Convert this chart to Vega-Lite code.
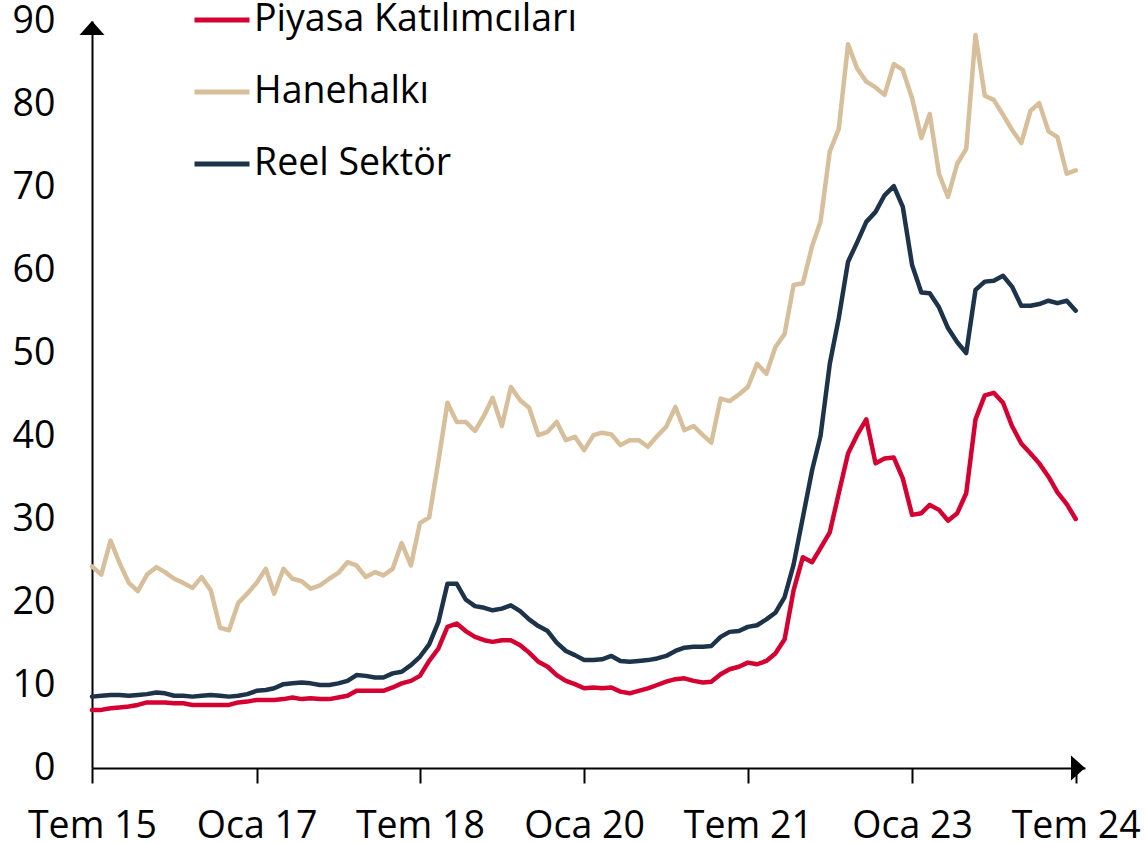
{
  "$schema": "https://vega.github.io/schema/vega-lite/v6.json",
  "width": 993,
  "height": 747,
  "autosize": {"type": "none"},
  "padding": {"left": 92, "top": 21, "right": 62, "bottom": 75},
  "background": "white",
  "config": {
    "view": {"stroke": null},
    "font": "Open Sans",
    "axis": {"grid": false, "domainColor": "#000", "domainWidth": 2, "tickColor": "#000", "tickWidth": 2, "labelFont": "Open Sans", "labelFontSize": 37.5, "labelColor": "#000", "title": null}
  },
  "datasets": {
    "main": [
      {"t":"2015-07-01","p":7.0,"h":24.3,"r":8.6},
      {"t":"2015-08-01","p":7.0,"h":23.3,"r":8.7},
      {"t":"2015-09-01","p":7.2,"h":27.4,"r":8.8},
      {"t":"2015-10-01","p":7.3,"h":24.7,"r":8.8},
      {"t":"2015-11-01","p":7.4,"h":22.3,"r":8.7},
      {"t":"2015-12-01","p":7.6,"h":21.3,"r":8.8},
      {"t":"2016-01-01","p":7.9,"h":23.3,"r":8.9},
      {"t":"2016-02-01","p":7.9,"h":24.2,"r":9.1},
      {"t":"2016-03-01","p":7.9,"h":23.6,"r":9.0},
      {"t":"2016-04-01","p":7.8,"h":22.8,"r":8.7},
      {"t":"2016-05-01","p":7.8,"h":22.3,"r":8.7},
      {"t":"2016-06-01","p":7.6,"h":21.7,"r":8.6},
      {"t":"2016-07-01","p":7.6,"h":23.0,"r":8.7},
      {"t":"2016-08-01","p":7.6,"h":21.4,"r":8.8},
      {"t":"2016-09-01","p":7.6,"h":16.9,"r":8.7},
      {"t":"2016-10-01","p":7.6,"h":16.6,"r":8.6},
      {"t":"2016-11-01","p":7.9,"h":19.9,"r":8.7},
      {"t":"2016-12-01","p":8.0,"h":21.0,"r":8.9},
      {"t":"2017-01-01","p":8.2,"h":22.3,"r":9.3},
      {"t":"2017-02-01","p":8.2,"h":24.0,"r":9.4},
      {"t":"2017-03-01","p":8.2,"h":21.0,"r":9.6},
      {"t":"2017-04-01","p":8.3,"h":24.0,"r":10.1},
      {"t":"2017-05-01","p":8.5,"h":22.8,"r":10.2},
      {"t":"2017-06-01","p":8.3,"h":22.5,"r":10.3},
      {"t":"2017-07-01","p":8.4,"h":21.6,"r":10.2},
      {"t":"2017-08-01","p":8.3,"h":22.0,"r":10.0},
      {"t":"2017-09-01","p":8.3,"h":22.8,"r":10.0},
      {"t":"2017-10-01","p":8.5,"h":23.5,"r":10.2},
      {"t":"2017-11-01","p":8.7,"h":24.8,"r":10.5},
      {"t":"2017-12-01","p":9.3,"h":24.4,"r":11.2},
      {"t":"2018-01-01","p":9.3,"h":23.0,"r":11.1},
      {"t":"2018-02-01","p":9.3,"h":23.6,"r":10.9},
      {"t":"2018-03-01","p":9.3,"h":23.2,"r":10.9},
      {"t":"2018-04-01","p":9.7,"h":24.0,"r":11.4},
      {"t":"2018-05-01","p":10.2,"h":27.1,"r":11.6},
      {"t":"2018-06-01","p":10.5,"h":24.4,"r":12.4},
      {"t":"2018-07-01","p":11.1,"h":29.5,"r":13.4},
      {"t":"2018-08-01","p":12.9,"h":30.2,"r":14.9},
      {"t":"2018-09-01","p":14.4,"h":37.0,"r":17.6},
      {"t":"2018-10-01","p":17.0,"h":44.0,"r":22.2},
      {"t":"2018-11-01","p":17.4,"h":41.7,"r":22.2},
      {"t":"2018-12-01","p":16.5,"h":41.7,"r":20.3},
      {"t":"2019-01-01","p":15.8,"h":40.6,"r":19.5},
      {"t":"2019-02-01","p":15.4,"h":42.5,"r":19.3},
      {"t":"2019-03-01","p":15.2,"h":44.6,"r":19.0},
      {"t":"2019-04-01","p":15.4,"h":41.2,"r":19.2},
      {"t":"2019-05-01","p":15.4,"h":45.9,"r":19.6},
      {"t":"2019-06-01","p":14.8,"h":44.3,"r":18.9},
      {"t":"2019-07-01","p":13.9,"h":43.4,"r":17.9},
      {"t":"2019-08-01","p":12.8,"h":40.1,"r":17.1},
      {"t":"2019-09-01","p":12.2,"h":40.5,"r":16.5},
      {"t":"2019-10-01","p":11.2,"h":41.7,"r":15.1},
      {"t":"2019-11-01","p":10.5,"h":39.5,"r":14.1},
      {"t":"2019-12-01","p":10.1,"h":39.9,"r":13.6},
      {"t":"2020-01-01","p":9.6,"h":38.3,"r":13.0},
      {"t":"2020-02-01","p":9.7,"h":40.1,"r":13.0},
      {"t":"2020-03-01","p":9.6,"h":40.4,"r":13.1},
      {"t":"2020-04-01","p":9.7,"h":40.2,"r":13.5},
      {"t":"2020-05-01","p":9.2,"h":38.9,"r":12.9},
      {"t":"2020-06-01","p":9.0,"h":39.5,"r":12.8},
      {"t":"2020-07-01","p":9.3,"h":39.5,"r":12.9},
      {"t":"2020-08-01","p":9.6,"h":38.7,"r":13.0},
      {"t":"2020-09-01","p":10.0,"h":40.0,"r":13.2},
      {"t":"2020-10-01","p":10.4,"h":41.1,"r":13.5},
      {"t":"2020-11-01","p":10.7,"h":43.5,"r":14.1},
      {"t":"2020-12-01","p":10.8,"h":40.7,"r":14.5},
      {"t":"2021-01-01","p":10.5,"h":41.2,"r":14.6},
      {"t":"2021-02-01","p":10.3,"h":40.1,"r":14.6},
      {"t":"2021-03-01","p":10.4,"h":39.2,"r":14.7},
      {"t":"2021-04-01","p":11.3,"h":44.5,"r":15.8},
      {"t":"2021-05-01","p":11.9,"h":44.2,"r":16.4},
      {"t":"2021-06-01","p":12.2,"h":45.0,"r":16.5},
      {"t":"2021-07-01","p":12.7,"h":45.9,"r":17.0},
      {"t":"2021-08-01","p":12.5,"h":48.7,"r":17.2},
      {"t":"2021-09-01","p":12.9,"h":47.5,"r":17.9},
      {"t":"2021-10-01","p":13.8,"h":50.7,"r":18.7},
      {"t":"2021-11-01","p":15.5,"h":52.3,"r":20.6},
      {"t":"2021-12-01","p":21.4,"h":58.2,"r":24.5},
      {"t":"2022-01-01","p":25.4,"h":58.4,"r":30.2},
      {"t":"2022-02-01","p":24.8,"h":62.9,"r":35.9},
      {"t":"2022-03-01","p":26.5,"h":65.8,"r":40.0},
      {"t":"2022-04-01","p":28.4,"h":74.3,"r":48.7},
      {"t":"2022-05-01","p":33.1,"h":77.0,"r":54.2},
      {"t":"2022-06-01","p":37.9,"h":87.2,"r":61.0},
      {"t":"2022-07-01","p":40.1,"h":84.3,"r":63.3},
      {"t":"2022-08-01","p":42.0,"h":82.7,"r":65.8},
      {"t":"2022-09-01","p":36.7,"h":82.0,"r":67.0},
      {"t":"2022-10-01","p":37.3,"h":81.1,"r":69.0},
      {"t":"2022-11-01","p":37.4,"h":84.8,"r":70.1},
      {"t":"2022-12-01","p":34.9,"h":84.1,"r":67.6},
      {"t":"2023-01-01","p":30.5,"h":80.7,"r":60.6},
      {"t":"2023-02-01","p":30.7,"h":75.9,"r":57.3},
      {"t":"2023-03-01","p":31.7,"h":78.8,"r":57.2},
      {"t":"2023-04-01","p":31.1,"h":71.6,"r":55.5},
      {"t":"2023-05-01","p":29.8,"h":68.8,"r":53.0},
      {"t":"2023-06-01","p":30.7,"h":72.8,"r":51.3},
      {"t":"2023-07-01","p":33.1,"h":74.6,"r":50.0},
      {"t":"2023-08-01","p":42.0,"h":88.3,"r":57.6},
      {"t":"2023-09-01","p":44.9,"h":81.0,"r":58.6},
      {"t":"2023-10-01","p":45.2,"h":80.5,"r":58.7},
      {"t":"2023-11-01","p":44.0,"h":78.7,"r":59.3},
      {"t":"2023-12-01","p":41.2,"h":76.9,"r":58.0},
      {"t":"2024-01-01","p":39.1,"h":75.3,"r":55.7},
      {"t":"2024-02-01","p":37.9,"h":79.2,"r":55.7},
      {"t":"2024-03-01","p":36.7,"h":80.1,"r":55.9},
      {"t":"2024-04-01","p":35.1,"h":76.7,"r":56.3},
      {"t":"2024-05-01","p":33.2,"h":76.0,"r":56.0},
      {"t":"2024-06-01","p":31.8,"h":71.6,"r":56.3},
      {"t":"2024-07-01","p":30.0,"h":72.0,"r":55.1}
    ]
  },
  "layer": [
    {
      "data": {"name": "main"},
      "transform": [{"fold": ["p", "h", "r"], "as": ["k", "v"]}],
      "mark": {"type": "line", "strokeWidth": 4.5, "strokeJoin": "round", "strokeCap": "round"},
      "encoding": {
        "x": {
          "field": "t", "type": "temporal",
          "scale": {"type": "utc", "domain": [{"year": 2015, "month": 7, "date": 1, "utc": true}, {"year": 2024, "month": 8, "date": 1, "utc": true}]},
          "axis": {
            "values": [
              {"year": 2015, "month": 7, "date": 1, "utc": true},
              {"year": 2017, "month": 1, "date": 1, "utc": true},
              {"year": 2018, "month": 7, "date": 1, "utc": true},
              {"year": 2020, "month": 1, "date": 1, "utc": true},
              {"year": 2021, "month": 7, "date": 1, "utc": true},
              {"year": 2023, "month": 1, "date": 1, "utc": true},
              {"year": 2024, "month": 7, "date": 1, "utc": true}
            ],
            "labelExpr": "(utcmonth(datum.value) == 0 ? 'Oca ' : 'Tem ') + utcFormat(datum.value, '%y')",
            "tickSize": 15, "labelPadding": 24, "labelOverlap": false, "labelBound": false, "labelFlush": false
          }
        },
        "y": {
          "field": "v", "type": "quantitative",
          "scale": {"domain": [0, 90], "nice": false, "zero": true},
          "axis": {"values": [0, 10, 20, 30, 40, 50, 60, 70, 80, 90], "ticks": false, "labelPadding": 37, "labelBaseline": "middle"}
        },
        "color": {
          "field": "k", "type": "nominal",
          "scale": {"domain": ["p", "h", "r"], "range": ["#D50032", "#D6BF9A", "#1D3349"]},
          "legend": {
            "orient": "none", "legendX": 100, "legendY": -31, "title": null,
            "direction": "vertical",
            "symbolType": "stroke", "symbolSize": 3025, "symbolStrokeWidth": 5,
            "labelFontSize": 37.5, "labelFont": "Open Sans", "labelColor": "#000",
            "labelOffset": 2, "rowPadding": 23, "labelLimit": 600,
            "labelExpr": "datum.label == 'p' ? 'Piyasa Katılımcıları' : datum.label == 'h' ? 'Hanehalkı' : 'Reel Sektör'"
          }
        }
      }
    },
    {
      "data": {"values": [{"t": "2015-07-01", "v": 90}]},
      "mark": {"type": "point", "shape": "M0,0L-1,1.12L1,1.12Z", "filled": true, "color": "#000", "size": 625, "opacity": 1},
      "encoding": {
        "x": {"field": "t", "type": "temporal"},
        "y": {"field": "v", "type": "quantitative"}
      }
    },
    {
      "data": {"values": [{"t": "2024-08-01", "v": 0}]},
      "mark": {"type": "point", "shape": "M0,0L-1.12,-1L-1.12,1Z", "filled": true, "color": "#000", "size": 625, "opacity": 1},
      "encoding": {
        "x": {"field": "t", "type": "temporal"},
        "y": {"field": "v", "type": "quantitative"}
      }
    }
  ]
}
